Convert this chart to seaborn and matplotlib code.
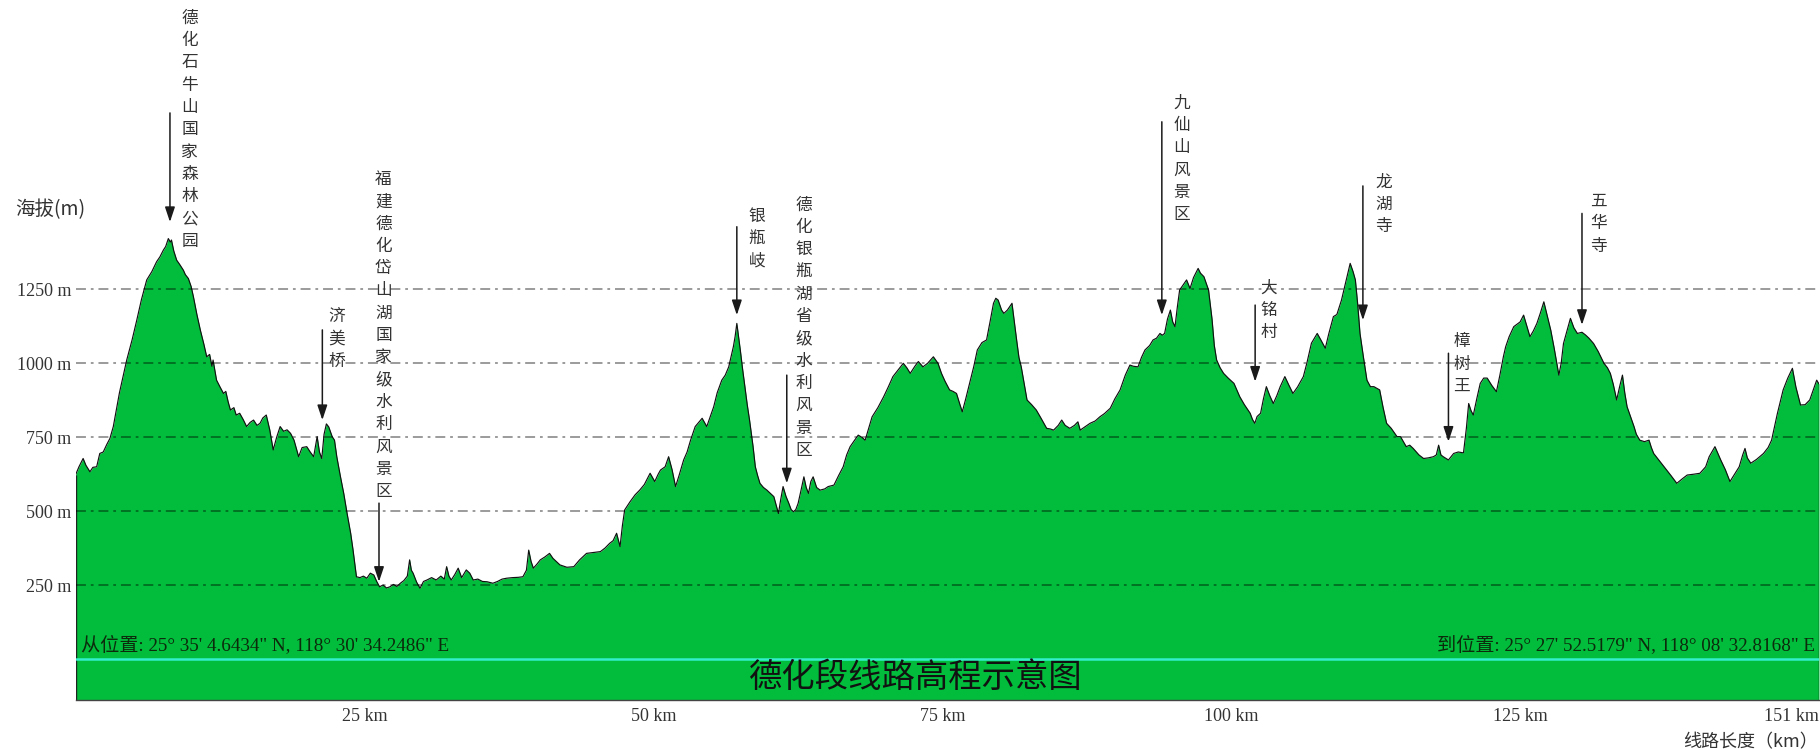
import matplotlib
matplotlib.use("Agg")
import matplotlib.pyplot as plt
import matplotlib.transforms as mtransforms
import seaborn as sns
import pandas as pd

# ---------------- data ----------------
dist_km = [
    0.0, 0.3, 0.66, 0.9, 1.25, 1.5, 1.83, 2.1, 2.4, 2.7, 2.98, 3.27, 3.8, 4.43, 4.9, 5.3, 5.7, 6.16, 6.6, 7.02,
    7.3, 7.6, 7.8, 8.03, 8.2, 8.3, 8.5, 8.75, 9.0, 9.33, 9.5, 9.76, 10.0, 10.2, 10.5, 10.8, 11.1, 11.35, 11.6, 11.8,
    11.9, 12.2, 12.5, 12.8, 13.0, 13.2, 13.4, 13.7, 13.9, 14.2, 14.5, 14.8, 15.1, 15.4, 15.7, 15.96, 16.2, 16.5, 16.8, 17.1,
    17.4, 17.7, 18.0, 18.3, 18.6, 18.9, 19.3, 19.6, 20.0, 20.3, 20.6, 20.9, 21.1, 21.3, 21.5, 21.7, 21.9, 22.2, 22.4, 22.6,
    22.9, 23.2, 23.5, 23.8, 24.0, 24.3, 24.6, 24.9, 25.2, 25.5, 25.8, 26.05, 26.3, 26.6, 26.9, 27.2, 27.5, 27.8, 28.1, 28.4,
    28.7, 28.9, 29.05, 29.2, 29.5, 29.8, 30.1, 30.4, 30.8, 31.2, 31.6, 31.9, 32.1, 32.3, 32.5, 32.8, 33.1, 33.4, 33.8, 34.1,
    34.4, 34.8, 35.2, 35.6, 36.1, 36.5, 36.9, 37.3, 37.8, 38.3, 38.7, 39.0, 39.2, 39.4, 39.6, 39.9, 40.2, 40.6, 41.0, 41.3,
    41.6, 41.9, 42.5, 43.1, 43.6, 44.2, 44.8, 45.4, 45.8, 46.2, 46.5, 46.8, 47.1, 47.3, 47.5, 47.97, 48.4, 48.8, 49.2, 49.7,
    50.1, 50.4, 50.6, 51.0, 51.3, 51.6, 51.9, 52.2, 52.6, 52.9, 53.2, 53.6, 53.9, 54.2, 54.6, 54.9, 55.2, 55.5, 55.9, 56.2,
    56.5, 56.9, 57.05, 57.2, 57.35, 57.5, 57.7, 57.9, 58.1, 58.3, 58.6, 58.8, 59.0, 59.2, 59.5, 59.8, 60.1, 60.4, 60.6, 60.8,
    61.0, 61.2, 61.45, 61.7, 61.9, 62.1, 62.3, 62.5, 62.75, 63.0, 63.2, 63.4, 63.6, 63.8, 64.1, 64.4, 64.8, 65.1, 65.6, 66.0,
    66.4, 66.7, 67.0, 67.3, 67.7, 68.0, 68.3, 68.6, 68.9, 69.4, 69.9, 70.3, 70.7, 71.2, 71.6, 71.9, 72.2, 72.6, 72.9, 73.3,
    73.7, 74.2, 74.6, 74.9, 75.2, 75.6, 75.9, 76.2, 76.5, 76.7, 77.0, 77.4, 77.7, 78.0, 78.4, 78.8, 79.1, 79.4, 79.6, 79.8,
    80.1, 80.3, 80.6, 81.0, 81.2, 81.4, 81.6, 81.8, 82.3, 82.7, 83.1, 83.5, 84.0, 84.3, 84.6, 85.0, 85.3, 85.6, 86.0, 86.4,
    86.7, 86.9, 87.3, 87.75, 88.2, 88.6, 89.0, 89.5, 89.9, 90.35, 90.8, 91.2, 91.5, 91.9, 92.2, 92.5, 92.9, 93.2, 93.5, 93.8,
    94.0, 94.2, 94.45, 94.7, 94.9, 95.1, 95.3, 95.5, 95.8, 96.1, 96.4, 96.7, 97.1, 97.3, 97.6, 98.0, 98.3, 98.5, 98.7, 99.0,
    99.3, 99.7, 100.2, 100.5, 100.7, 101.1, 101.6, 101.8, 102.0, 102.2, 102.5, 102.75, 103.0, 103.3, 103.6, 103.9, 104.2, 104.6, 104.9, 105.3,
    105.7, 106.2, 106.5, 106.9, 107.4, 107.7, 108.1, 108.4, 108.8, 109.1, 109.5, 109.9, 110.25, 110.5, 110.7, 110.9, 111.1, 111.4, 111.7, 112.0,
    112.3, 112.8, 113.1, 113.4, 113.8, 114.3, 114.6, 115.1, 115.4, 115.7, 116.2, 116.6, 117.0, 117.45, 117.7, 117.9, 118.1, 118.3, 118.75, 119.2,
    119.6, 120.05, 120.3, 120.5, 120.7, 120.9, 121.2, 121.5, 121.8, 122.1, 122.5, 122.9, 123.2, 123.5, 123.7, 124.0, 124.4, 124.95, 125.25, 125.5,
    125.8, 126.1, 126.4, 126.7, 127.0, 127.3, 127.6, 127.9, 128.3, 128.5, 128.7, 129.0, 129.3, 129.6, 129.9, 130.3, 130.6, 130.9, 131.3, 131.7,
    132.2, 132.5, 132.75, 133.0, 133.3, 133.55, 133.8, 134.0, 134.2, 134.5, 134.8, 135.0, 135.3, 135.7, 136.1, 136.3, 136.5, 137.0, 137.4, 138.0,
    138.5, 139.0, 139.4, 140.0, 140.5, 141.0, 141.3, 141.8, 142.0, 142.3, 142.7, 143.1, 143.5, 143.9, 144.2, 144.4, 144.6, 144.9, 145.4, 146.0,
    146.4, 146.7, 147.2, 147.7, 148.1, 148.5, 148.8, 149.2, 149.6, 150.0, 150.3, 150.6, 150.8,
]
elev_m = [
    622, 650, 678, 655, 633, 648, 650, 695, 700, 725, 746, 786, 900, 1011, 1080, 1146, 1215, 1282, 1310, 1344,
    1360, 1383, 1395, 1422, 1410, 1417, 1380, 1349, 1335, 1315, 1300, 1287, 1260, 1225, 1165, 1112, 1065, 1022, 1030, 990,
    1011, 943, 920, 898, 905, 870, 842, 850, 825, 831, 810, 786, 800, 808, 790, 797, 815, 825, 775, 707,
    750, 786, 770, 775, 763, 740, 684, 715, 718, 700, 684, 752, 700, 678, 760, 795, 785, 752, 740, 684,
    620, 560, 490, 425, 370, 278, 275, 280, 273, 290, 284, 262, 244, 250, 240, 244, 252, 245, 256, 265,
    280, 335, 300, 290, 260, 239, 262, 267, 275, 267, 280, 270, 312, 280, 267, 285, 307, 275, 301, 290,
    267, 270, 262, 261, 256, 262, 270, 273, 275, 276, 278, 300, 368, 330, 307, 320, 335, 345, 357, 340,
    329, 318, 310, 312, 335, 357, 360, 363, 375, 391, 400, 425, 380, 450, 504, 532, 555, 571, 590, 628,
    600, 625, 639, 650, 684, 640, 583, 620, 673, 700, 740, 786, 800, 814, 786, 820, 853, 900, 943, 960,
    988, 1056, 1090, 1135, 1090, 1045, 980, 921, 860, 808, 720, 650, 620, 594, 580, 571, 560, 549, 520, 492,
    540, 583, 550, 526, 505, 498, 505, 526, 570, 616, 580, 560, 600, 616, 580, 571, 575, 583, 588, 620,
    650, 690, 718, 735, 757, 750, 740, 780, 819, 850, 887, 920, 955, 980, 1000, 985, 966, 990, 1006, 988,
    1000, 1022, 1000, 966, 940, 910, 905, 898, 860, 836, 880, 943, 990, 1045, 1070, 1079, 1140, 1203, 1220, 1214,
    1180, 1169, 1180, 1203, 1140, 1079, 1020, 988, 876, 860, 842, 815, 780, 778, 774, 790, 808, 790, 780, 790,
    802, 774, 785, 797, 805, 819, 830, 848, 880, 910, 960, 994, 990, 988, 1020, 1045, 1060, 1079, 1085, 1101,
    1095, 1101, 1150, 1180, 1140, 1124, 1190, 1248, 1265, 1282, 1253, 1290, 1321, 1305, 1293, 1248, 1150, 1060, 1011, 985,
    966, 950, 932, 905, 887, 860, 831, 810, 797, 820, 831, 880, 921, 890, 864, 890, 921, 955, 930, 898,
    920, 955, 1000, 1068, 1101, 1080, 1051, 1100, 1158, 1165, 1214, 1280, 1338, 1310, 1282, 1200, 1101, 1020, 943, 921,
    921, 910, 850, 797, 780, 752, 752, 718, 723, 712, 690, 678, 680, 684, 690, 723, 690, 684, 673, 695,
    700, 697, 780, 864, 840, 825, 880, 932, 950, 950, 925, 904, 960, 1022, 1056, 1090, 1124, 1140, 1163, 1130,
    1090, 1110, 1135, 1170, 1208, 1160, 1112, 1050, 960, 1000, 1067, 1110, 1152, 1120, 1101, 1105, 1096, 1085, 1067, 1040,
    1000, 985, 966, 930, 876, 920, 960, 900, 853, 820, 786, 760, 740, 735, 740, 715, 695, 670, 650, 620,
    594, 610, 622, 625, 628, 650, 684, 718, 700, 673, 640, 600, 625, 650, 690, 712, 680, 662, 675, 695,
    715, 740, 830, 910, 950, 983, 920, 859, 860, 876, 910, 943, 930,
]

ytick_vals = [250, 500, 750, 1000, 1250]
ytick_labels = ["250 m", "500 m", "750 m", "1000 m", "1250 m"]
xtick_vals = [0, 25, 50, 75, 100, 125, 149.8]
xtick_labels = ["", "25 km", "50 km", "75 km", "100 km", "125 km", "151 km"]

poi_names = ["德化石牛山国家森林公园", "济美桥", "福建德化岱山湖国家级水利风景区", "银瓶岐",
             "德化银瓶湖省级水利风景区", "九仙山风景区", "大铭村", "龙湖寺", "樟树王", "五华寺"]
poi_arrow_km = [8.17, 21.35, 26.25, 57.2, 61.52, 93.96, 102.03, 111.35, 118.75, 130.3]
poi_tip_m = [1478, 808, 261, 1163, 594, 1163, 938, 1146, 735, 1130]
poi_tail_m = [1847, 1113, 527, 1462, 960, 1817, 1197, 1600, 1034, 1507]
poi_text_km = [9.86, 22.6, 26.63, 58.93, 62.96, 95.69, 103.2, 113.13, 119.9, 131.7]
poi_text_top_m = [2167, 1158, 1622, 1496, 1535, 1880, 1254, 1614, 1073, 1547]

start_text = "从位置: 25° 35' 4.6434\" N, 118° 30' 34.2486\" E"
end_text = "到位置: 25° 27' 52.5179\" N, 118° 08' 32.8168\" E"
title_text = "德化段线路高程示意图"
ylabel_text = "海拔(m)"
xlabel_text = "线路长度（km）"

# ---------------- style ----------------
sns.set_style("white")
plt.rcParams["font.family"] = ["Liberation Serif", "Noto Sans CJK SC", "DejaVu Sans"]
CJK = ["Noto Sans CJK SC", "DejaVu Sans"]
SERIF = ["Liberation Serif", "Noto Sans CJK SC", "DejaVu Sans"]

W, H = 1820, 750
fig = plt.figure(figsize=(W / 100, H / 100), dpi=100)
fig.patch.set_facecolor("white")
ax = fig.add_axes([75.5 / W, 50 / H, (1819 - 75.5) / W, 700 / H])
ax.set_facecolor("white")

YMIN, YMAX = -139, 2229
XMIN, XMAX = 0, 150.8
ax.set_xlim(XMIN, XMAX)
ax.set_ylim(YMIN, YMAX)

df = pd.DataFrame({"km": dist_km, "elev": elev_m})
GREEN = "#02BD3C"
ax.fill_between(df["km"], df["elev"], YMIN, color=GREEN, lw=0, zorder=1)
sns.lineplot(data=df, x="km", y="elev", ax=ax, color="#111111", lw=0.85, zorder=2,
             estimator=None, sort=False)
ax.vlines([dist_km[0], dist_km[-1]], YMIN, [elev_m[0], elev_m[-1]], color="#222222", lw=1.0, zorder=2)

# grid lines (dash-dot)
for yv in ytick_vals:
    ax.axhline(yv, color="black", alpha=0.5, lw=1.1, ls=(0, (6.5, 3.2, 1.8, 3.2)), zorder=3)

# cyan zero line
ax.axhline(0, color="#33EFCB", lw=1.8, zorder=4)

# spines and ticks
for s in ["top", "left", "right"]:
    ax.spines[s].set_visible(False)
ax.spines["bottom"].set_color("#444444")
ax.spines["bottom"].set_linewidth(1.0)
ax.spines["bottom"].set_zorder(5)

ax.set_yticks(ytick_vals)
ax.set_yticklabels(ytick_labels, fontsize=13, color="#333333", family=SERIF)
ax.tick_params(axis="y", length=0, pad=3.2)
ax.set_xticks(xtick_vals)
ax.set_xticklabels(xtick_labels, fontsize=13, color="#333333", family=SERIF)
ax.tick_params(axis="x", length=3, width=1, color="#444444", pad=3, direction="out")
last = ax.get_xticklabels()[-1]
last.set_transform(last.get_transform() + mtransforms.ScaledTranslation(-16 / 100, 0, fig.dpi_scale_trans))
ax.set_xlabel("")
ax.set_ylabel("")

# POI annotations
char_step = 75.4  # metres per character line
for name, akm, tip, tail, tkm, ttop in zip(poi_names, poi_arrow_km, poi_tip_m, poi_tail_m,
                                           poi_text_km, poi_text_top_m):
    ax.annotate("", xy=(akm, tip), xytext=(akm, tail),
                arrowprops=dict(arrowstyle="-|>,head_length=0.45,head_width=0.15",
                                color="#1a1a1a", lw=1.1, shrinkA=0, shrinkB=0,
                                mutation_scale=20),
                zorder=6, annotation_clip=False)
    for i, ch in enumerate(name):
        ax.text(tkm, ttop - i * char_step, ch, ha="center", va="center",
                fontsize=12, color="#333333", family=CJK, zorder=6, clip_on=False)

# start / end coordinates
fig.text(81 / W, 1 - 645 / H, start_text, ha="left", va="center", fontsize=13.8,
         color="#0c2a0c", family=SERIF, zorder=6)
fig.text(1815 / W, 1 - 645 / H, end_text, ha="right", va="center", fontsize=13.8,
         color="#0c2a0c", family=SERIF, zorder=6)

# in-plot title
fig.text(915 / W, 1 - 678 / H, title_text, ha="center", va="center", fontsize=24,
         color="#111111", family=CJK, zorder=7)

# axis labels
fig.text(15 / W, 1 - 210 / H, ylabel_text, ha="left", va="center", fontsize=14,
         color="#333333", family=CJK)
fig.text(1683 / W, 1 - 742 / H, xlabel_text, ha="left", va="center", fontsize=13,
         color="#333333", family=CJK)

fig.savefig("out.png", dpi=100)
